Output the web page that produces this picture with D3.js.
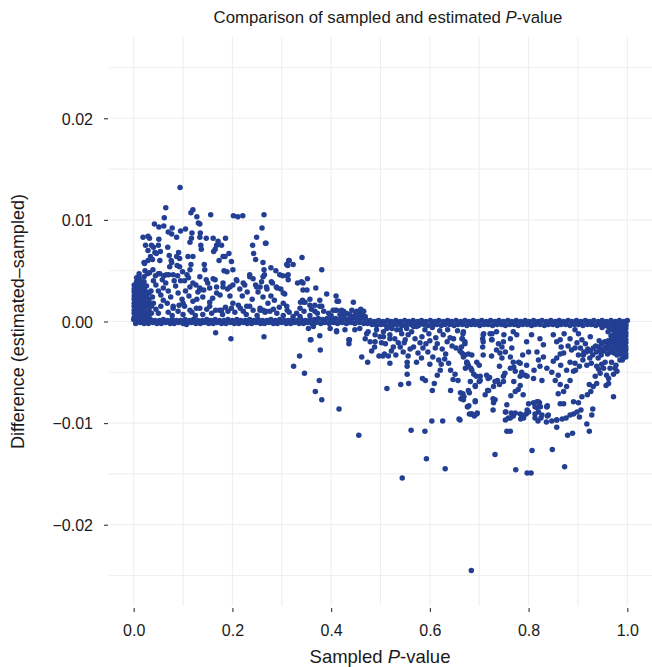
<!DOCTYPE html>
<html>
<head>
<meta charset="utf-8">
<script src="https://cdn.jsdelivr.net/npm/d3@7"></script>
<style>
  body { margin: 0; background: #fff; }
  svg text { font-family: "Liberation Sans", Arial, Helvetica, sans-serif; fill: #1a1a1a; }
</style>
</head>
<body>
<div id="chart"></div>
<script>
// axis breaks
const xTicks = [0, 0.2, 0.4, 0.6, 0.8, 1.0];
const yTicks = [-0.02, -0.01, 0, 0.01, 0.02];
const xGridValues = [0, 0.1, 0.2, 0.3, 0.4, 0.5, 0.6, 0.7, 0.8, 0.9, 1.0];
const yGridValues = [-0.025, -0.02, -0.015, -0.01, -0.005, 0, 0.005, 0.01, 0.015, 0.02, 0.025];

// [sampled P, estimated - sampled]
// the thick run of points sitting on zero
const zeroBandTop = [
  [0.000,0.0002],[0.008,0.0001],[0.017,0.0002],[0.026,0.0001],[0.034,0.0002],[0.043,0.0001],[0.052,0.0001],[0.060,0.0002],[0.069,0.0001],[0.078,0.0002],
  [0.087,0.0001],[0.095,0.0001],[0.104,0.0002],[0.113,0.0001],[0.121,0.0002],[0.130,0.0001],[0.139,0.0001],[0.148,0.0002],[0.156,0.0001],[0.165,0.0002],
  [0.174,0.0001],[0.183,0.0001],[0.191,0.0002],[0.200,0.0001],[0.209,0.0002],[0.217,0.0001],[0.226,0.0001],[0.235,0.0002],[0.244,0.0001],[0.252,0.0002],
  [0.261,0.0001],[0.270,0.0001],[0.278,0.0002],[0.287,0.0001],[0.296,0.0002],[0.305,0.0001],[0.313,0.0001],[0.322,0.0002],[0.331,0.0001],[0.339,0.0002],
  [0.348,0.0001],[0.357,0.0002],[0.366,0.0002],[0.374,0.0003],[0.383,0.0002],[0.392,0.0003],[0.400,0.0002],[0.409,0.0003],[0.418,0.0002],[0.427,0.0003],
  [0.435,0.0002],[0.444,0.0003],[0.453,0.0002],[0.461,0.0003],[0.470,0.0002],
  [0.479,0.0001],[0.488,0.0000],[0.496,0.0001],[0.505,0.0000],[0.514,0.0001],[0.522,0.0000],[0.531,0.0001],[0.540,0.0000],[0.549,0.0001],[0.557,0.0000],
  [0.566,0.0001],[0.575,0.0000],[0.583,0.0001],[0.592,0.0000],[0.601,0.0001],[0.610,0.0000],[0.618,0.0001],[0.627,0.0000],[0.636,0.0001],[0.644,0.0000],
  [0.653,0.0001],[0.662,0.0000],[0.671,0.0001],[0.679,0.0000],[0.688,0.0001],[0.697,0.0000],[0.705,0.0001],[0.714,0.0000],[0.723,0.0001],[0.732,0.0000],
  [0.740,0.0001],[0.749,0.0000],[0.758,0.0001],[0.766,0.0000],[0.775,0.0001],[0.784,0.0000],[0.793,0.0001],[0.801,0.0000],[0.810,0.0001],[0.819,0.0000],
  [0.827,0.0001],[0.836,0.0000],[0.845,0.0001],[0.854,0.0000],[0.862,0.0001],[0.871,0.0000],[0.880,0.0001],[0.888,0.0000],[0.897,0.0001],[0.906,0.0000],
  [0.915,0.0001],[0.923,0.0000],[0.932,0.0001],[0.941,0.0000],[0.949,0.0001],[0.958,0.0000],[0.967,0.0001],[0.976,0.0000],[0.984,0.0001],[0.993,0.0000],[1.000,0.0001]
];
const zeroBandBottom = [
  [0.004,-0.0002],[0.013,-0.0001],[0.021,-0.0002],[0.030,-0.0002],[0.039,-0.0001],[0.047,-0.0002],[0.056,-0.0002],[0.065,-0.0001],[0.074,-0.0002],[0.082,-0.0002],
  [0.091,-0.0001],[0.100,-0.0002],[0.108,-0.0002],[0.117,-0.0001],[0.126,-0.0002],[0.135,-0.0002],[0.143,-0.0001],[0.152,-0.0002],[0.161,-0.0002],[0.169,-0.0001],
  [0.178,-0.0002],[0.187,-0.0002],[0.196,-0.0001],[0.204,-0.0002],[0.213,-0.0002],[0.222,-0.0001],[0.230,-0.0002],[0.239,-0.0002],[0.248,-0.0001],[0.257,-0.0002],
  [0.265,-0.0002],[0.274,-0.0001],[0.283,-0.0002],[0.291,-0.0002],[0.300,-0.0001],[0.309,-0.0002],[0.318,-0.0002],[0.326,-0.0001],[0.335,-0.0002],[0.344,-0.0002],
  [0.352,-0.0001],[0.361,-0.0002],[0.370,-0.0001],[0.379,-0.0002],[0.387,-0.0001],[0.396,-0.0002],[0.405,-0.0001],[0.413,-0.0002],[0.422,-0.0001],[0.431,-0.0002],
  [0.440,-0.0001],[0.448,-0.0002],[0.457,-0.0001],[0.466,-0.0002],[0.474,-0.0002],
  [0.483,-0.0003],[0.492,-0.0004],[0.501,-0.0003],[0.509,-0.0003],[0.518,-0.0004],[0.527,-0.0003],[0.535,-0.0003],[0.544,-0.0004],[0.553,-0.0003],[0.562,-0.0003],
  [0.570,-0.0004],[0.579,-0.0003],[0.588,-0.0003],[0.596,-0.0004],[0.605,-0.0003],[0.614,-0.0003],[0.623,-0.0004],[0.631,-0.0003],[0.640,-0.0003],[0.649,-0.0004],
  [0.657,-0.0003],[0.666,-0.0003],[0.675,-0.0004],[0.684,-0.0003],[0.692,-0.0003],[0.701,-0.0004],[0.710,-0.0003],[0.718,-0.0003],[0.727,-0.0004],[0.736,-0.0003],
  [0.745,-0.0003],[0.753,-0.0004],[0.762,-0.0003],[0.771,-0.0003],[0.779,-0.0004],[0.788,-0.0003],[0.797,-0.0003],[0.806,-0.0004],[0.814,-0.0003],[0.823,-0.0003],
  [0.832,-0.0004],[0.840,-0.0003],[0.849,-0.0003],[0.858,-0.0004],[0.866,-0.0003],[0.875,-0.0003],[0.884,-0.0004],[0.893,-0.0003],[0.901,-0.0003],[0.910,-0.0004],
  [0.919,-0.0003],[0.927,-0.0003],[0.936,-0.0004],[0.945,-0.0003],[0.953,-0.0003],[0.962,-0.0004],[0.971,-0.0003],[0.979,-0.0003],[0.988,-0.0004],[0.997,-0.0003]
];

// dense lump at small sampled P
const leftCluster = [
  [0.001,0.0004],[0.001,0.0008],[0.001,0.0011],[0.001,0.0015],[0.001,0.0018],[0.001,0.0022],[0.001,0.0025],[0.001,0.0029],[0.001,0.0032],[0.001,0.0036],
  [0.006,0.0004],[0.006,0.0008],[0.006,0.0011],[0.006,0.0015],[0.006,0.0018],[0.006,0.0022],[0.006,0.0025],[0.006,0.0029],[0.006,0.0032],[0.006,0.0036],[0.006,0.0039],[0.006,0.0043],
  [0.011,0.0004],[0.011,0.0008],[0.011,0.0011],[0.011,0.0015],[0.011,0.0018],[0.011,0.0022],[0.011,0.0025],[0.011,0.0029],[0.011,0.0032],[0.011,0.0036],[0.011,0.0039],[0.011,0.0043],[0.011,0.0047],
  [0.016,0.0004],[0.016,0.0008],[0.016,0.0011],[0.016,0.0015],[0.016,0.0018],[0.016,0.0022],[0.016,0.0025],[0.016,0.0029],[0.016,0.0032],[0.016,0.0036],[0.016,0.0039],
  [0.021,0.0004],[0.021,0.0008],[0.021,0.0011],[0.021,0.0015],[0.021,0.0018],[0.021,0.0022],[0.021,0.0025],[0.021,0.0029],[0.021,0.0032],[0.021,0.0039],
  [0.026,0.0004],[0.026,0.0008],[0.026,0.0015],[0.026,0.0018],[0.026,0.0025],[0.026,0.0029],[0.026,0.0035],
  [0.031,0.0006],[0.031,0.0011],[0.031,0.0019],[0.031,0.0022],[0.031,0.0028],
  [0.036,0.0008],[0.036,0.0015]
];

// dense lump near sampled P = 1
const rightCluster = [
  [0.997,-0.0004],[0.997,-0.0007],[0.997,-0.0011],[0.997,-0.0014],[0.997,-0.0018],[0.997,-0.0021],[0.997,-0.0025],[0.997,-0.0028],[0.997,-0.0032],[0.997,-0.0035],
  [0.991,-0.0004],[0.991,-0.0007],[0.991,-0.0011],[0.991,-0.0014],[0.991,-0.0018],[0.991,-0.0021],[0.991,-0.0025],[0.991,-0.0028],[0.991,-0.0032],[0.991,-0.0036],
  [0.985,-0.0004],[0.985,-0.0007],[0.985,-0.0011],[0.985,-0.0014],[0.985,-0.0018],[0.985,-0.0021],[0.985,-0.0025],[0.985,-0.0028],[0.985,-0.0032],
  [0.979,-0.0004],[0.979,-0.0007],[0.979,-0.0011],[0.979,-0.0014],[0.979,-0.0018],[0.979,-0.0021],[0.979,-0.0025],[0.979,-0.0028],[0.979,-0.0033],
  [0.973,-0.0005],[0.973,-0.0009],[0.973,-0.0013],[0.973,-0.0016],[0.973,-0.0020],[0.973,-0.0024],[0.973,-0.0027],[0.973,-0.0031],
  [0.967,-0.0004],[0.967,-0.0008],[0.967,-0.0014],[0.967,-0.0018],[0.967,-0.0021],[0.967,-0.0026],[0.967,-0.0030],
  [0.961,-0.0005],[0.961,-0.0010],[0.961,-0.0019],[0.961,-0.0023],[0.961,-0.0027],[0.960,-0.0032],
  [0.955,-0.0004],[0.954,-0.0020],[0.956,-0.0025],[0.953,-0.0029],
  [0.949,-0.0006],[0.948,-0.0022],[0.950,-0.0027],[0.947,-0.0033],
  [0.943,-0.0019],[0.942,-0.0025],[0.944,-0.0029],[0.941,-0.0036],
  [0.936,-0.0024],[0.937,-0.0030],
  [0.931,-0.0026],[0.930,-0.0033],[0.925,-0.0029],[0.924,-0.0036],[0.917,-0.0030],[0.911,-0.0033]
];

// estimated above sampled
const upperPoints = [
  [0.094,0.0132],[0.065,0.0112],[0.062,0.0102],[0.120,0.0110],[0.116,0.0107],[0.128,0.0103],[0.131,0.0097],[0.134,0.0096],[0.156,0.0105],
  [0.202,0.0104],[0.211,0.0103],[0.221,0.0104],[0.264,0.0105],
  [0.042,0.0096],[0.051,0.0093],[0.061,0.0094],[0.078,0.0092],[0.070,0.0088],[0.077,0.0086],[0.087,0.0083],[0.095,0.0089],[0.105,0.0091],
  [0.029,0.0084],[0.032,0.0082],[0.024,0.0075],[0.051,0.0081],[0.118,0.0087],[0.117,0.0082],[0.114,0.0078],[0.135,0.0087],[0.134,0.0083],
  [0.147,0.0082],[0.161,0.0082],[0.171,0.0079],[0.186,0.0082],[0.136,0.0075],[0.137,0.0071],[0.168,0.0075],[0.165,0.0071],[0.162,0.0069],
  [0.178,0.0075],[0.181,0.0064],[0.185,0.0064],[0.193,0.0067],[0.241,0.0075],[0.243,0.0067],[0.247,0.0061],[0.249,0.0083],[0.260,0.0092],[0.267,0.0077],
  [0.040,0.0073],[0.050,0.0075],[0.054,0.0069],[0.043,0.0068],[0.034,0.0064],[0.038,0.0061],[0.021,0.0058],[0.069,0.0073],[0.072,0.0065],[0.077,0.0058],
  [0.091,0.0068],[0.093,0.0062],[0.088,0.0055],[0.110,0.0064],[0.120,0.0064],[0.116,0.0056],[0.143,0.0056],[0.144,0.0051],
  [0.023,0.0050],[0.028,0.0047],[0.032,0.0048],[0.021,0.0044],[0.173,0.0060],[0.183,0.0050],[0.189,0.0049],[0.198,0.0059],[0.201,0.0051],
  [0.262,0.0058],[0.264,0.0051],[0.265,0.0046],
  [0.050,0.0047],[0.061,0.0045],[0.071,0.0046],[0.080,0.0046],[0.089,0.0045],[0.099,0.0049],[0.108,0.0046],[0.111,0.0043],[0.103,0.0040],[0.095,0.0040],
  [0.126,0.0036],[0.134,0.0033],[0.142,0.0031],[0.150,0.0038],[0.154,0.0033],[0.165,0.0041],[0.168,0.0028],[0.181,0.0034],[0.190,0.0032],[0.201,0.0036],
  [0.209,0.0040],[0.215,0.0032],[0.225,0.0036],[0.230,0.0029],[0.235,0.0046],[0.242,0.0042],[0.247,0.0036],[0.259,0.0039],[0.269,0.0034],[0.252,0.0029],
  [0.060,0.0021],[0.068,0.0018],[0.080,0.0013],[0.090,0.0010],[0.103,0.0015],[0.114,0.0011],[0.128,0.0022],[0.134,0.0013],[0.154,0.0019],[0.166,0.0011],
  [0.174,0.0011],[0.191,0.0010],[0.198,0.0013],[0.212,0.0016],[0.216,0.0013],[0.222,0.0010],[0.235,0.0015],[0.242,0.0011],[0.256,0.0011],[0.266,0.0009],
  [0.040,0.0040],[0.045,0.0036],[0.050,0.0030],[0.055,0.0026],[0.060,0.0033],[0.065,0.0038],[0.070,0.0030],[0.075,0.0024],[0.085,0.0035],[0.090,0.0028],
  [0.098,0.0022],[0.105,0.0030],[0.112,0.0025],[0.120,0.0020],[0.040,0.0018],[0.045,0.0012],[0.050,0.0008],[0.035,0.0030],[0.038,0.0024],[0.055,0.0015],
  [0.070,0.0009],[0.078,0.0006],[0.092,0.0016],[0.100,0.0007],[0.118,0.0009],[0.125,0.0006],[0.140,0.0007],[0.148,0.0012],[0.158,0.0008],[0.180,0.0007],
  [0.186,0.0014],[0.205,0.0009],[0.228,0.0007],[0.250,0.0006],[0.044,0.0045],[0.058,0.0041],[0.082,0.0040],[0.120,0.0038],[0.130,0.0029],[0.140,0.0024],
  [0.160,0.0023],[0.175,0.0026],[0.195,0.0025],[0.220,0.0025],[0.240,0.0022],[0.262,0.0024],[0.272,0.0018],[0.285,0.0021],[0.295,0.0014],[0.290,0.0008],
  [0.268,0.0077],[0.278,0.0053],[0.288,0.0050],[0.302,0.0045],[0.311,0.0045],[0.315,0.0060],[0.323,0.0056],[0.312,0.0055],[0.341,0.0063],[0.381,0.0051],
  [0.313,0.0041],[0.332,0.0038],[0.340,0.0039],[0.352,0.0042],[0.281,0.0038],[0.291,0.0033],[0.298,0.0032],[0.306,0.0027],[0.270,0.0032],[0.256,0.0034],
  [0.278,0.0025],[0.343,0.0031],[0.351,0.0031],[0.357,0.0022],[0.369,0.0033],[0.377,0.0021],[0.367,0.0016],[0.391,0.0027],[0.381,0.0015],[0.342,0.0021],
  [0.345,0.0019],[0.410,0.0025],[0.412,0.0020],[0.411,0.0011],[0.445,0.0019],[0.408,0.0011],[0.425,0.0010],[0.431,0.0008],[0.442,0.0011],[0.452,0.0010],
  [0.458,0.0006],[0.469,0.0005],[0.444,0.0005],[0.283,0.0012],[0.268,0.0010],[0.262,0.0011],[0.310,0.0015],[0.303,0.0006],[0.323,0.0005],[0.337,0.0013],
  [0.357,0.0006],[0.337,0.0005],[0.314,0.0060],[0.310,0.0056],[0.296,0.0046],[0.313,0.0046],[0.343,0.0038],[0.303,0.0018],[0.311,0.0011],[0.338,0.0019],
  [0.347,0.0019],[0.357,0.0016],[0.377,0.0015],[0.367,0.0010],[0.415,0.0020],[0.404,0.0011],[0.421,0.0011],[0.450,0.0008],[0.462,0.0008],[0.452,0.0005],
  [0.395,0.0008],[0.400,0.0006],[0.418,0.0007],[0.426,0.0006],[0.437,0.0007],[0.448,0.0006],[0.456,0.0009],[0.463,0.0006],[0.466,0.0010],[0.460,0.0012],
  [0.315,0.0009],[0.330,0.0008],[0.345,0.0010],[0.360,0.0012],[0.372,0.0008],[0.385,0.0010],
  [0.019,0.0083],[0.029,0.0070],[0.036,0.0075],[0.046,0.0067],[0.053,0.0060],[0.029,0.0060],[0.022,0.0057],[0.039,0.0051],[0.053,0.0047],[0.066,0.0046],
  [0.076,0.0060],[0.087,0.0064],[0.093,0.0054],[0.073,0.0054],[0.114,0.0051],[0.134,0.0044],[0.147,0.0041],[0.161,0.0042],[0.114,0.0034],[0.134,0.0031],
  [0.168,0.0034],[0.181,0.0038],[0.195,0.0034],[0.208,0.0041],[0.222,0.0038],[0.235,0.0044],[0.249,0.0034],[0.262,0.0044],[0.279,0.0039],[0.289,0.0034],
  [0.303,0.0028],[0.201,0.0018],[0.229,0.0015],[0.256,0.0013],[0.276,0.0010],[0.080,0.0015],[0.100,0.0018],[0.127,0.0013],[0.154,0.0015],[0.178,0.0011]
];

// estimated below sampled
const lowerPoints = [
  [0.107,-0.0003],[0.166,-0.0011],[0.197,-0.0017],[0.264,-0.0015],
  [0.359,-0.0018],[0.377,-0.0014],[0.378,-0.0028],[0.336,-0.0034],[0.324,-0.0044],[0.346,-0.0051],[0.376,-0.0058],[0.368,-0.0069],[0.381,-0.0077],
  [0.416,-0.0086],[0.456,-0.0112],[0.436,-0.0018],[0.436,-0.0022],[0.411,-0.0009],
  [0.462,-0.0035],[0.474,-0.0040],[0.497,-0.0034],[0.505,-0.0034],[0.508,-0.0032],[0.516,-0.0034],[0.519,-0.0041],[0.488,-0.0025],[0.513,-0.0066],
  [0.541,-0.0062],[0.557,-0.0061],[0.554,-0.0052],[0.554,-0.0044],[0.554,-0.0040],[0.556,-0.0034],[0.573,-0.0040],[0.562,-0.0107],[0.590,-0.0108],
  [0.593,-0.0135],[0.631,-0.0145],[0.604,-0.0098],[0.626,-0.0098],[0.659,-0.0096],[0.585,-0.0056],[0.591,-0.0058],[0.609,-0.0061],[0.605,-0.0068],[0.615,-0.0053],
  [0.596,-0.0030],[0.606,-0.0035],[0.611,-0.0026],[0.618,-0.0038],[0.623,-0.0042],[0.621,-0.0048],[0.625,-0.0027],[0.632,-0.0032],[0.642,-0.0048],[0.651,-0.0052],
  [0.657,-0.0058],[0.662,-0.0070],[0.663,-0.0076],[0.667,-0.0074],[0.679,-0.0083],[0.680,-0.0091],[0.642,-0.0068],[0.672,-0.0046],[0.675,-0.0040],[0.668,-0.0033],
  [0.661,-0.0029],[0.645,-0.0024],[0.653,-0.0026],[0.648,-0.0017],[0.665,-0.0017],[0.668,-0.0010],[0.627,-0.0013],
  [0.506,-0.0010],[0.519,-0.0013],[0.529,-0.0017],[0.536,-0.0021],[0.526,-0.0025],[0.540,-0.0025],[0.550,-0.0018],[0.556,-0.0013],[0.563,-0.0010],[0.570,-0.0017],
  [0.567,-0.0025],[0.580,-0.0021],[0.543,-0.0012],[0.533,-0.0008],[0.513,-0.0007],[0.499,-0.0015],[0.492,-0.0008],[0.475,-0.0010],[0.479,-0.0020],[0.489,-0.0020],
  [0.469,-0.0017],[0.458,-0.0007],[0.448,-0.0008],[0.428,-0.0008],[0.398,-0.0007],[0.364,-0.0005],[0.354,-0.0007],
  [0.358,-0.0018],[0.411,-0.0010],[0.437,-0.0018],[0.472,-0.0012],[0.489,-0.0013],[0.506,-0.0015],[0.519,-0.0017],[0.540,-0.0008],[0.553,-0.0007],
  [0.567,-0.0005],[0.577,-0.0004],[0.523,-0.0007],[0.573,-0.0005],
  [0.590,-0.0008],[0.598,-0.0012],[0.605,-0.0006],[0.612,-0.0016],[0.620,-0.0009],[0.636,-0.0008],[0.641,-0.0016],[0.656,-0.0009],[0.584,-0.0015],[0.592,-0.0022],
  [0.600,-0.0019],[0.635,-0.0020],[0.615,-0.0022],
  [0.544,-0.0154],[0.732,-0.0131],[0.774,-0.0146],[0.797,-0.0149],[0.805,-0.0149],[0.807,-0.0127],[0.848,-0.0126],[0.873,-0.0143],[0.684,-0.0245],
  [0.756,-0.0108],[0.763,-0.0108],[0.879,-0.0112],[0.889,-0.0110],[0.923,-0.0108],[0.918,-0.0101],[0.857,-0.0104],[0.836,-0.0099],[0.847,-0.0098],[0.857,-0.0097],
  [0.868,-0.0096],[0.876,-0.0095],[0.884,-0.0092],[0.891,-0.0091],[0.898,-0.0089],[0.906,-0.0087],[0.903,-0.0094],[0.928,-0.0092],[0.930,-0.0086],[0.825,-0.0095],
  [0.838,-0.0093],[0.813,-0.0091],[0.820,-0.0089],[0.813,-0.0084],[0.822,-0.0080],[0.837,-0.0084],[0.819,-0.0098],[0.795,-0.0091],[0.800,-0.0089],[0.790,-0.0095],
  [0.783,-0.0091],[0.784,-0.0096],[0.769,-0.0093],[0.765,-0.0090],[0.759,-0.0095],[0.754,-0.0089],[0.753,-0.0097],[0.728,-0.0087],[0.729,-0.0080],[0.728,-0.0076],
  [0.717,-0.0068],[0.721,-0.0055],[0.715,-0.0053],[0.764,-0.0073],[0.756,-0.0082],
  [0.696,-0.0090],[0.692,-0.0078],[0.690,-0.0093],[0.684,-0.0091],[0.677,-0.0084],[0.661,-0.0097],[0.669,-0.0074],[0.680,-0.0070],[0.667,-0.0071],
  [0.692,-0.0063],[0.700,-0.0059],[0.702,-0.0054],[0.689,-0.0052],[0.683,-0.0046],[0.678,-0.0043],[0.675,-0.0040],[0.671,-0.0033],[0.678,-0.0032],[0.668,-0.0035],
  [0.664,-0.0025],[0.671,-0.0020],[0.666,-0.0017],[0.685,-0.0033],[0.695,-0.0040],[0.700,-0.0043],[0.708,-0.0033],[0.707,-0.0025],[0.708,-0.0020],[0.708,-0.0013],
  [0.722,-0.0012],[0.725,-0.0018],[0.725,-0.0034],[0.735,-0.0028],[0.718,-0.0056],[0.732,-0.0059],[0.741,-0.0062],[0.749,-0.0059],[0.752,-0.0051],[0.741,-0.0044],
  [0.746,-0.0036],[0.746,-0.0025],[0.749,-0.0020],[0.750,-0.0013],[0.763,-0.0017],[0.766,-0.0026],[0.769,-0.0040],[0.773,-0.0049],[0.763,-0.0046],[0.783,-0.0041],
  [0.796,-0.0043],[0.793,-0.0053],[0.783,-0.0054],[0.788,-0.0033],[0.800,-0.0030],[0.817,-0.0030],[0.820,-0.0038],[0.830,-0.0035],[0.823,-0.0044],[0.811,-0.0048],
  [0.810,-0.0056],[0.827,-0.0058],[0.837,-0.0046],[0.847,-0.0050],[0.850,-0.0039],[0.857,-0.0036],[0.864,-0.0032],[0.871,-0.0031],[0.865,-0.0043],[0.860,-0.0053],
  [0.854,-0.0058],[0.864,-0.0062],[0.860,-0.0071],[0.871,-0.0069],[0.877,-0.0064],[0.884,-0.0058],[0.891,-0.0049],[0.877,-0.0048],[0.884,-0.0040],[0.894,-0.0041],
  [0.901,-0.0033],[0.894,-0.0026],[0.884,-0.0017],[0.864,-0.0018],[0.857,-0.0020],[0.850,-0.0013],[0.830,-0.0023],[0.823,-0.0017],[0.806,-0.0013],[0.796,-0.0020],
  [0.776,-0.0013],[0.769,-0.0010],[0.735,-0.0010],[0.789,-0.0072],[0.783,-0.0063],[0.779,-0.0067],[0.773,-0.0069],[0.800,-0.0081],[0.820,-0.0079],[0.817,-0.0085],
  [0.810,-0.0080],[0.838,-0.0083],[0.827,-0.0092],[0.864,-0.0081],[0.871,-0.0081],[0.891,-0.0079],[0.901,-0.0080],[0.908,-0.0074],[0.919,-0.0072],[0.926,-0.0069],
  [0.931,-0.0064],[0.938,-0.0061],[0.923,-0.0062],[0.935,-0.0054],[0.945,-0.0051],[0.952,-0.0046],[0.958,-0.0053],[0.962,-0.0061],[0.957,-0.0063],[0.972,-0.0074],
  [0.965,-0.0046],[0.975,-0.0046],[0.979,-0.0049],[0.985,-0.0038],
  [0.948,-0.0042],[0.955,-0.0040],[0.968,-0.0040],[0.972,-0.0052],[0.962,-0.0056],[0.977,-0.0043],[0.990,-0.0038],[0.942,-0.0047],[0.938,-0.0044],
  [0.901,-0.0012],[0.908,-0.0018],[0.915,-0.0022],[0.920,-0.0027],[0.912,-0.0030],[0.905,-0.0026],[0.925,-0.0015],[0.898,-0.0021],[0.894,-0.0008],[0.887,-0.0028],
  [0.880,-0.0024],[0.872,-0.0012],[0.866,-0.0025],[0.910,-0.0038],[0.918,-0.0043],[0.927,-0.0041],[0.903,-0.0044],[0.895,-0.0048],
  [0.667,-0.0012],[0.671,-0.0022],[0.665,-0.0031],[0.675,-0.0041],[0.685,-0.0048],[0.694,-0.0054],[0.682,-0.0059],[0.692,-0.0064],[0.702,-0.0058],[0.678,-0.0068],
  [0.668,-0.0077],[0.692,-0.0079],[0.676,-0.0084],[0.685,-0.0091],[0.695,-0.0091],[0.709,-0.0012],[0.707,-0.0017],[0.726,-0.0012],[0.726,-0.0018],[0.739,-0.0022],
  [0.742,-0.0031],[0.753,-0.0030],[0.763,-0.0035],[0.770,-0.0045],[0.780,-0.0040],[0.786,-0.0050],[0.797,-0.0054],[0.770,-0.0059],[0.749,-0.0054],[0.737,-0.0058],
  [0.729,-0.0064],[0.719,-0.0068],[0.712,-0.0072],[0.732,-0.0077],[0.753,-0.0089],[0.763,-0.0095],[0.773,-0.0090],[0.786,-0.0092],[0.797,-0.0087],[0.824,-0.0084],
  [0.817,-0.0079],[0.837,-0.0084],[0.813,-0.0095],[0.840,-0.0092],[0.857,-0.0097],
  [0.482,-0.0029],[0.510,-0.0022],[0.522,-0.0029],[0.531,-0.0033],[0.546,-0.0030],[0.560,-0.0027],[0.576,-0.0031],[0.583,-0.0036],[0.600,-0.0042],[0.630,-0.0037],
  [0.638,-0.0041],[0.647,-0.0057],[0.502,-0.0021],[0.548,-0.0021],[0.586,-0.0026]
];

const width = 652, height = 667;
const margin = { top: 37, right: 0, bottom: 61, left: 109 };

const svg = d3.select("#chart").append("svg")
  .attr("width", width)
  .attr("height", height);

const x = d3.scaleLinear()
  .domain([-0.05, 1.05])
  .range([margin.left, width - margin.right]);

const y = d3.scaleLinear()
  .domain([-0.028, 0.028])
  .range([height - margin.bottom, margin.top]);

// grid
const grid = svg.append("g");
grid.selectAll(".vgrid")
  .data(xGridValues)
  .enter().append("line")
  .attr("x1", d => x(d)).attr("x2", d => x(d))
  .attr("y1", y.range()[0]).attr("y2", y.range()[1])
  .attr("stroke", "#efefef")
  .attr("stroke-width", 1.1);
grid.selectAll(".hgrid")
  .data(yGridValues)
  .enter().append("line")
  .attr("x1", x.range()[0]).attr("x2", x.range()[1])
  .attr("y1", d => y(d)).attr("y2", d => y(d))
  .attr("stroke", "#efefef")
  .attr("stroke-width", 1.1);

// points
const allPoints = zeroBandTop.concat(zeroBandBottom, leftCluster, rightCluster, upperPoints, lowerPoints);
svg.append("g")
  .selectAll("circle")
  .data(allPoints)
  .enter().append("circle")
  .attr("cx", d => x(d[0]))
  .attr("cy", d => y(d[1]))
  .attr("r", 2.75)
  .attr("fill", "#233f94");

// axes: ticks only, no axis line
const fmtX = d3.format(".1f");
const fmtY = v => d3.format(".2f")(v).replace("-", "\u2013");

const xAxis = svg.append("g")
  .attr("transform", `translate(0,${height - margin.bottom + 2})`)
  .call(d3.axisBottom(x).tickValues(xTicks).tickFormat(fmtX).tickSize(4).tickPadding(13));
const yAxis = svg.append("g")
  .attr("transform", `translate(${margin.left - 1},0)`)
  .call(d3.axisLeft(y).tickValues(yTicks).tickFormat(fmtY).tickSize(4).tickPadding(11));

[xAxis, yAxis].forEach(a => {
  a.select(".domain").remove();
  a.selectAll(".tick line").attr("stroke", "#333").attr("stroke-width", 1.1);
  a.selectAll(".tick text")
    .attr("font-size", 16)
    .attr("font-family", "Liberation Sans, Arial, sans-serif")
    .attr("fill", "#1a1a1a");
});
yAxis.selectAll(".tick text").attr("dy", "0.36em");

// titles
const title = svg.append("text")
  .attr("x", 388)
  .attr("y", 23)
  .attr("text-anchor", "middle")
  .attr("font-size", 16.8);
title.append("tspan").text("Comparison of sampled and estimated ");
title.append("tspan").attr("font-style", "italic").text("P");
title.append("tspan").text("-value");

const xTitle = svg.append("text")
  .attr("x", 380)
  .attr("y", 663)
  .attr("text-anchor", "middle")
  .attr("font-size", 18.5);
xTitle.append("tspan").text("Sampled ");
xTitle.append("tspan").attr("font-style", "italic").text("P");
xTitle.append("tspan").text("-value");

svg.append("text")
  .attr("transform", `translate(24,${y(0)}) rotate(-90)`)
  .attr("text-anchor", "middle")
  .attr("font-size", 18)
  .text("Difference (estimated\u2013sampled)");
</script>
</body>
</html>
